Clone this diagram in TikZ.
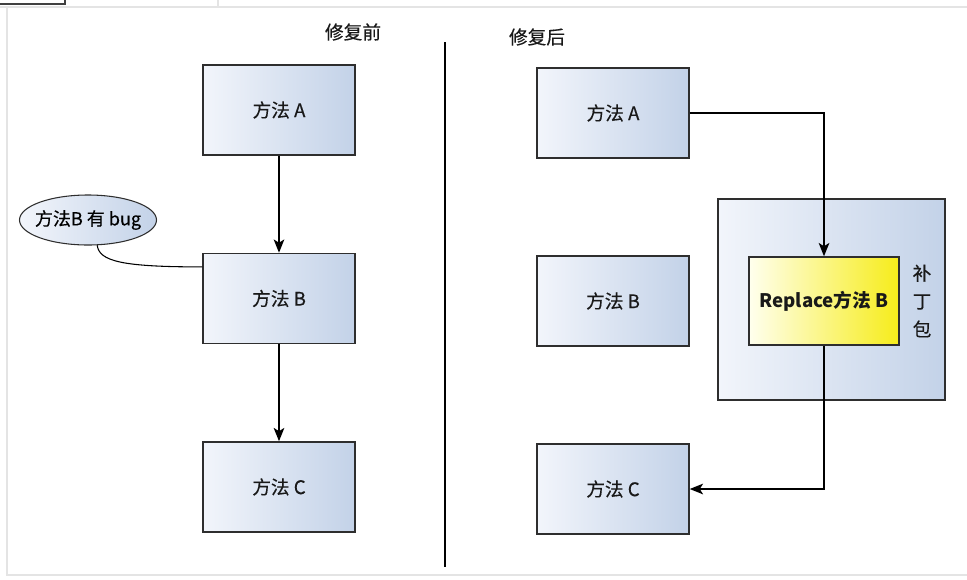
\documentclass[tikz,border=0pt]{standalone}
\usepackage{fontspec}
\setmainfont{Noto Sans CJK SC}
\newfontfamily\labelfont[FakeBold=0.4]{Noto Sans CJK SC}
\usetikzlibrary{arrows.meta,positioning,shapes.geometric,calc}

\definecolor{boxlight}{HTML}{F2F5FB}
\definecolor{boxdark}{HTML}{C3D2E8}
\definecolor{patchlight}{HTML}{FFFFEE}
\definecolor{patchdark}{HTML}{F6EC1A}
\definecolor{edgegray}{HTML}{2E2E2E}
\definecolor{framegray}{HTML}{E4E4E4}

\begin{document}
\begin{tikzpicture}[x=0.75pt,y=-0.75pt,
            font=\labelfont\fontsize{14pt}{17pt}\selectfont,
            method/.style={draw=edgegray,line width=1.1pt,rectangle,minimum width=114pt,minimum height=67.5pt,inner sep=0pt,left color=boxlight,right color=boxdark,text=black!90},
            patch/.style={method,minimum width=170.25pt,minimum height=150.75pt},
            replaced/.style={method,minimum width=112.5pt,minimum height=66pt,left color=patchlight,right color=patchdark,font=\normalfont\fontsize{14pt}{17pt}\selectfont\bfseries},
            bubble/.style={draw=edgegray,line width=0.8pt,ellipse,minimum width=102.75pt,minimum height=37.5pt,inner xsep=-9pt,inner ysep=0pt,left color=boxlight,right color=boxdark,font=\labelfont\fontsize{13.5pt}{16pt}\selectfont},
            caption/.style={text=black!90},
            flow/.style={draw,line width=1.1pt,-{Stealth[length=10pt,width=8pt,inset=2.5pt]}},
            remark/.style={draw,line width=0.8pt}
          ]
          \useasboundingbox (0,0) rectangle (967,579);
          \fill[white] (0,0) rectangle (967,579);

          %window frame
          \draw[framegray,line width=0.8pt] (0,7) -- (967,7);
          \draw[framegray,line width=0.8pt] (218,0) -- (218,7);
          \draw[framegray,line width=0.8pt] (7,7) -- (7,575) -- (967,575);
          \draw[black!75,line width=1pt] (0,4) -| (65,0);

          %before the fix
          \node[caption] (before) at (353,32) {修复前};
          \node[method] (lA) at (279,110) {方法 A};
          \node[method,below=72.75pt of lA] (lB) {方法 B};
          \node[method,below=72.75pt of lB] (lC) {方法 C};
          \node[bubble] (bug) at (88,220) {方法B 有 bug};

          \path
          (lA) edge[flow] (lB)
          (lB) edge[flow] (lC)
          ;
          \draw[remark] (bug.290) .. controls +(2,16) and +(-80,0) .. ($(lB.north west)!0.155!(lB.south west)$);

          %divider
          \draw[line width=2.2pt] (445,42) -- (445,567);

          %after the fix
          \node[caption] (after) at (537,37) {修复后};
          \node[method] (rA) at (613,113) {方法 A};
          \node[method] (rB) at (613,301) {方法 B};
          \node[method] (rC) at (613,489) {方法 C};
          \node[patch] (pack) at (831.5,299.5) {};
          \node[replaced] (rep) at (824,301) {Replace方法 B};
          \node[caption,align=center,font=\labelfont\fontsize{14pt}{21pt}\selectfont] (packlab) at (922,301) {补\\丁\\包};

          \draw[flow] (rA.east) -| (rep.north);
          \draw[flow] (rep.south) |- (rC.east);

      \end{tikzpicture}
\end{document}
